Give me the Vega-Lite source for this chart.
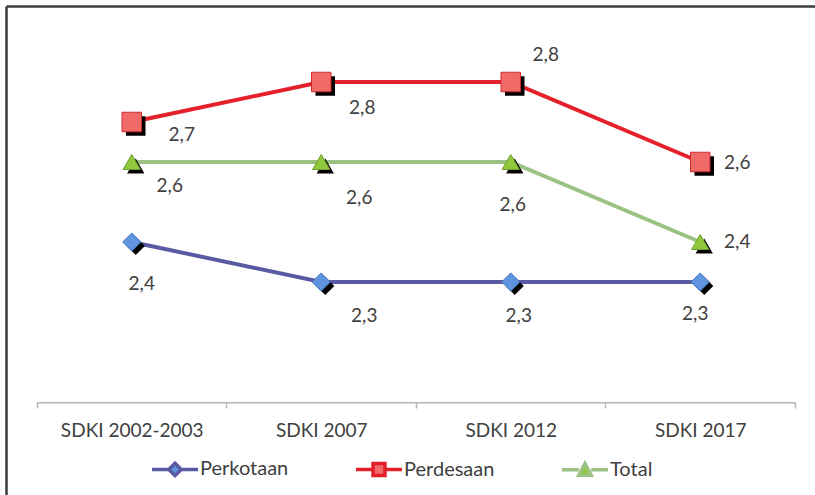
{
  "$schema": "https://vega.github.io/schema/vega-lite/v6.json",
  "autosize": {"type": "none"},
  "padding": {"left": 6, "top": 6, "right": 0, "bottom": 0},
  "width": 809,
  "height": 489,
  "background": "white",
  "config": {
    "view": {"stroke": null},
    "locale": {"number": {"decimal": ",", "thousands": ".", "grouping": [3], "currency": ["", ""]}},
    "text": {"font": "Lato", "fontSize": 19, "color": "#404040"}
  },
  "data": {
    "values": [
      {"survey": "SDKI 2002-2003", "series": "Perkotaan", "value": 2.4},
      {"survey": "SDKI 2007", "series": "Perkotaan", "value": 2.3},
      {"survey": "SDKI 2012", "series": "Perkotaan", "value": 2.3},
      {"survey": "SDKI 2017", "series": "Perkotaan", "value": 2.3},
      {"survey": "SDKI 2002-2003", "series": "Perdesaan", "value": 2.7},
      {"survey": "SDKI 2007", "series": "Perdesaan", "value": 2.8},
      {"survey": "SDKI 2012", "series": "Perdesaan", "value": 2.8},
      {"survey": "SDKI 2017", "series": "Perdesaan", "value": 2.6},
      {"survey": "SDKI 2002-2003", "series": "Total", "value": 2.6},
      {"survey": "SDKI 2007", "series": "Total", "value": 2.6},
      {"survey": "SDKI 2012", "series": "Total", "value": 2.6},
      {"survey": "SDKI 2017", "series": "Total", "value": 2.4}
    ]
  },
  "encoding": {
    "x": {
      "field": "survey", "type": "nominal",
      "sort": ["SDKI 2002-2003", "SDKI 2007", "SDKI 2012", "SDKI 2017"],
      "scale": {"type": "band", "paddingInner": 0, "paddingOuter": 0.13456, "align": 0.6078},
      "axis": null
    },
    "y": {
      "field": "value", "type": "quantitative",
      "scale": {"domain": [1.7675, 2.99], "nice": false, "zero": false},
      "axis": null
    }
  },
  "layer": [
    {
      "transform": [{"filter": "datum.series == 'Total'"}],
      "mark": {"type": "bar", "color": "#b5b5b5"},
      "encoding": {
        "y": {"datum": 2.0, "type": "quantitative"},
        "y2": {"datum": 1.9962}
      }
    },
    {
      "mark": {"type": "line", "strokeWidth": 4},
      "encoding": {
        "x": {
          "field": "survey", "type": "nominal",
          "sort": ["SDKI 2002-2003", "SDKI 2007", "SDKI 2012", "SDKI 2017"],
          "title": null,
          "axis": {
            "orient": "bottom", "offset": -93, "domain": false,
            "tickBand": "extent", "ticks": true, "tickSize": 6, "tickWidth": 1.5, "tickColor": "#b5b5b5",
            "labelFont": "Lato", "labelFontSize": 19, "labelColor": "#404040", "labelPadding": 13,
            "labelAngle": 0, "grid": false
          }
        },
        "y": {
          "field": "value", "type": "quantitative",
          "axis": {"orient": "left", "domain": true, "domainColor": "#3c3c3c", "domainWidth": 2.5, "labels": false, "ticks": false, "grid": false, "title": null}
        },
        "color": {
          "field": "series", "type": "nominal",
          "scale": {"domain": ["Perkotaan", "Perdesaan", "Total"], "range": ["#5a5aa2", "#e4202a", "#9cc283"]},
          "legend": {
            "orient": "none", "legendX": 144, "legendY": 438, "direction": "horizontal",
            "title": null, "padding": 0, "symbolSize": 2116, "symbolStrokeWidth": 3.5,
            "labelFont": "Lato", "labelFontSize": 20, "labelColor": "#404040", "labelOffset": 0,
            "columnPadding": 60,
            "encode": {
              "symbols": {
                "update": {
                  "shape": {"signal": "datum.value === 'Perkotaan' ? 'M-1,0L-0.27,0M0.27,0L1,0M0,-0.27L0.27,0L0,0.27L-0.27,0Z' : datum.value === 'Perdesaan' ? 'M-1,0L-0.26,0M0.26,0L1,0M-0.26,-0.26L0.26,-0.26L0.26,0.26L-0.26,0.26Z' : 'M-1,0L-0.27,0M0.27,0L1,0M0,-0.27L0.27,0.24L-0.27,0.24Z'"},
                  "fill": {"signal": "datum.value === 'Perkotaan' ? '#5e94e0' : datum.value === 'Perdesaan' ? '#f06a6a' : '#92c83e'"},
                  "fillOpacity": {"value": 1},
                  "strokeWidth": {"value": 3.5}
                }
              }
            }
          }
        }
      }
    },
    {
      "transform": [{"filter": "datum.series == 'Perkotaan'"}],
      "mark": {"type": "point", "shape": "diamond", "size": 330, "filled": true, "xOffset": 4, "yOffset": 4, "opacity": 1, "color": "black"}
    },
    {
      "transform": [{"filter": "datum.series == 'Perdesaan'"}],
      "mark": {"type": "point", "shape": "square", "size": 380, "filled": true, "xOffset": 4, "yOffset": 4, "opacity": 1, "color": "black"}
    },
    {
      "transform": [{"filter": "datum.series == 'Total'"}],
      "mark": {"type": "point", "shape": "triangle-up", "size": 300, "filled": true, "xOffset": 4, "yOffset": 4, "opacity": 1, "color": "black"}
    },
    {
      "transform": [{"filter": "datum.series == 'Perkotaan'"}],
      "mark": {"type": "point", "shape": "diamond", "size": 330, "filled": true, "opacity": 1, "fill": "#5e94e0", "stroke": "#4a78c0", "strokeWidth": 1}
    },
    {
      "transform": [{"filter": "datum.series == 'Perdesaan'"}],
      "mark": {"type": "point", "shape": "square", "size": 380, "filled": true, "opacity": 1, "fill": "#f06a6a", "stroke": "#d02a2a", "strokeWidth": 1}
    },
    {
      "transform": [{"filter": "datum.series == 'Total'"}],
      "mark": {"type": "point", "shape": "triangle-up", "size": 300, "filled": true, "opacity": 1, "fill": "#92c83e", "stroke": "#6e9e30", "strokeWidth": 1},
      "encoding": {
        "x": {
          "field": "survey", "type": "nominal",
          "sort": ["SDKI 2002-2003", "SDKI 2007", "SDKI 2012", "SDKI 2017"],
          "axis": {"orient": "top", "domain": true, "domainColor": "#3c3c3c", "domainWidth": 2.5, "labels": false, "ticks": false, "grid": false, "title": null}
        }
      }
    },
    {"transform": [{"filter": "datum.series == 'Perdesaan' && datum.survey == 'SDKI 2002-2003'"}], "mark": {"type": "text", "dx": 50, "dy": 13}, "encoding": {"text": {"field": "value", "type": "quantitative", "format": ".1f"}}},
    {"transform": [{"filter": "datum.series == 'Perdesaan' && datum.survey == 'SDKI 2007'"}], "mark": {"type": "text", "dx": 41, "dy": 26}, "encoding": {"text": {"field": "value", "type": "quantitative", "format": ".1f"}}},
    {"transform": [{"filter": "datum.series == 'Perdesaan' && datum.survey == 'SDKI 2012'"}], "mark": {"type": "text", "dx": 35, "dy": -27}, "encoding": {"text": {"field": "value", "type": "quantitative", "format": ".1f"}}},
    {"transform": [{"filter": "datum.series == 'Perdesaan' && datum.survey == 'SDKI 2017'"}], "mark": {"type": "text", "dx": 37, "dy": 1}, "encoding": {"text": {"field": "value", "type": "quantitative", "format": ".1f"}}},
    {"transform": [{"filter": "datum.series == 'Total' && datum.survey == 'SDKI 2002-2003'"}], "mark": {"type": "text", "dx": 38, "dy": 24}, "encoding": {"text": {"field": "value", "type": "quantitative", "format": ".1f"}}},
    {"transform": [{"filter": "datum.series == 'Total' && datum.survey == 'SDKI 2007'"}], "mark": {"type": "text", "dx": 38, "dy": 36}, "encoding": {"text": {"field": "value", "type": "quantitative", "format": ".1f"}}},
    {"transform": [{"filter": "datum.series == 'Total' && datum.survey == 'SDKI 2012'"}], "mark": {"type": "text", "dx": 2, "dy": 43}, "encoding": {"text": {"field": "value", "type": "quantitative", "format": ".1f"}}},
    {"transform": [{"filter": "datum.series == 'Total' && datum.survey == 'SDKI 2017'"}], "mark": {"type": "text", "dx": 37, "dy": 0}, "encoding": {"text": {"field": "value", "type": "quantitative", "format": ".1f"}}},
    {"transform": [{"filter": "datum.series == 'Perkotaan' && datum.survey == 'SDKI 2002-2003'"}], "mark": {"type": "text", "dx": 10, "dy": 42}, "encoding": {"text": {"field": "value", "type": "quantitative", "format": ".1f"}}},
    {"transform": [{"filter": "datum.series == 'Perkotaan' && datum.survey == 'SDKI 2007'"}], "mark": {"type": "text", "dx": 43, "dy": 34}, "encoding": {"text": {"field": "value", "type": "quantitative", "format": ".1f"}}},
    {"transform": [{"filter": "datum.series == 'Perkotaan' && datum.survey == 'SDKI 2012'"}], "mark": {"type": "text", "dx": 8, "dy": 34}, "encoding": {"text": {"field": "value", "type": "quantitative", "format": ".1f"}}},
    {"transform": [{"filter": "datum.series == 'Perkotaan' && datum.survey == 'SDKI 2017'"}], "mark": {"type": "text", "dx": -5, "dy": 32}, "encoding": {"text": {"field": "value", "type": "quantitative", "format": ".1f"}}}
  ],
  "resolve": {"axis": {"x": "independent", "y": "independent"}}
}
